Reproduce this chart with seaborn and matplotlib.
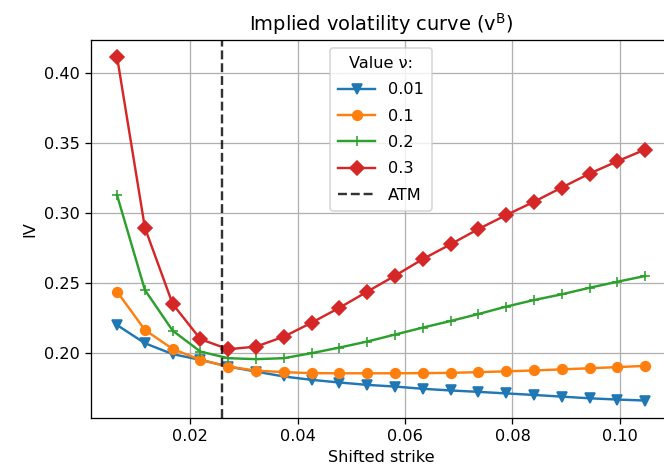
import matplotlib
matplotlib.use("Agg")
import matplotlib.pyplot as plt
import seaborn as sns
import numpy as np

# Data
strikes = [0.00635, 0.01153, 0.01670, 0.02188, 0.02706, 0.03224, 0.03741, 0.04259,
           0.04777, 0.05294, 0.05812, 0.06330, 0.06847, 0.07365, 0.07883, 0.08400,
           0.08918, 0.09436, 0.09954, 0.10471]
iv_001 = [0.2197, 0.2067, 0.1989, 0.1948, 0.1900, 0.1864, 0.1829, 0.1805, 0.1786, 0.1769,
          0.1757, 0.1741, 0.1729, 0.1719, 0.1708, 0.1697, 0.1685, 0.1673, 0.1664, 0.1657]
iv_01 = [0.2436, 0.2162, 0.2026, 0.1948, 0.1900, 0.1871, 0.1860, 0.1853, 0.1852, 0.1852,
         0.1852, 0.1853, 0.1855, 0.1860, 0.1866, 0.1872, 0.1880, 0.1888, 0.1896, 0.1905]
iv_02 = [0.3125, 0.2448, 0.2157, 0.2007, 0.1960, 0.1953, 0.1960, 0.1996, 0.2036, 0.2079,
         0.2129, 0.2179, 0.2226, 0.2276, 0.2329, 0.2376, 0.2417, 0.2464, 0.2507, 0.2548]
iv_03 = [0.4114, 0.2893, 0.2348, 0.2096, 0.2024, 0.2043, 0.2114, 0.2214, 0.2321, 0.2436,
         0.2550, 0.2669, 0.2775, 0.2884, 0.2984, 0.3079, 0.3181, 0.3281, 0.3369, 0.3453]
nu_labels = ["0.01", "0.1", "0.2", "0.3"]
atm_strike = 0.0259

W, H, DPI = 664, 475, 116
fig = plt.figure(figsize=(W / DPI, H / DPI), dpi=DPI)
ax = fig.add_axes([90.7 / W, 57.3 / H, 580.8 / W, 377.7 / H])

colors = ["#1f77b4", "#ff7f0e", "#2ca02c", "#d62728"]
markers = ["v", "o", "+", "D"]
series = [iv_001, iv_01, iv_02, iv_03]

for vals, lab, c, m in zip(series, nu_labels, colors, markers):
    sns.lineplot(x=strikes, y=vals, ax=ax, color=c, marker=m, label=lab,
                 markeredgecolor=c, markeredgewidth=1.0, markersize=6, linewidth=1.5)

ax.axvline(atm_strike, color="k", linestyle="--", alpha=0.8, linewidth=1.5, label="ATM")

ax.grid(True)
ax.set_title(r"Implied volatility curve ($\mathregular{v^B}$)")
ax.set_xlabel("Shifted strike")
ax.set_ylabel("IV")
ax.legend(title="Value ν:", loc="upper center", labelspacing=0.7, borderpad=0.5,
          handlelength=2.3)

fig.savefig("out.png", dpi=DPI)
